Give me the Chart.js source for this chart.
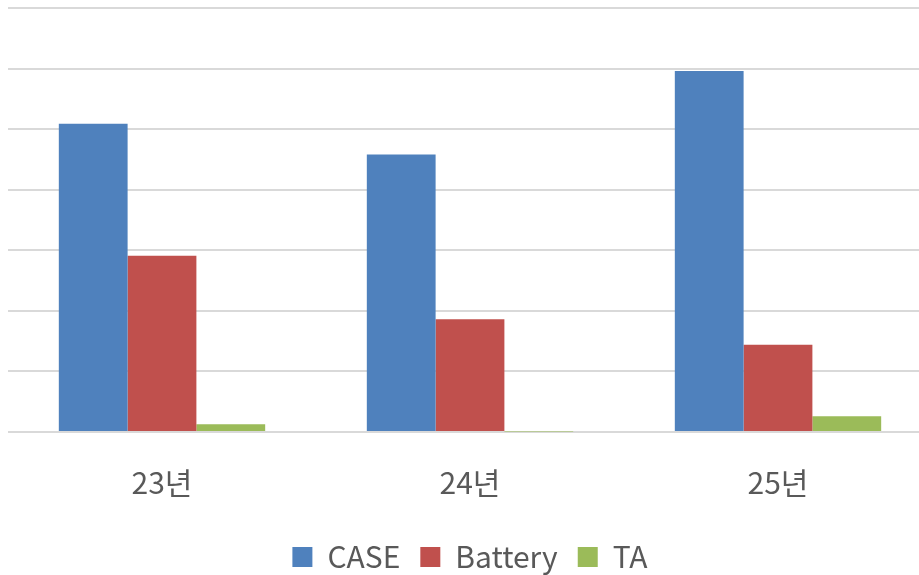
<!DOCTYPE html>
<html>
<head>
<meta charset="utf-8">
<script src="https://cdn.jsdelivr.net/npm/chart.js@4"></script>
<style>
html,body{margin:0;padding:0;overflow:hidden;background:#fff;width:919px;height:575px;}
#wrap{position:absolute;left:0;top:0;width:940px;height:582px;}
</style>
</head>
<body>
<div id="wrap"><canvas id="c"></canvas></div>
<script>
const categories = ["23년", "24년", "25년"];
const caseValues = [5.09, 4.58, 5.96];
const batteryValues = [2.91, 1.86, 1.44];
const taValues = [0.13, 0.01, 0.26];
const seriesNames = ["CASE", "Battery", "TA"];

const FONT = '"Noto Sans CJK KR", "Noto Sans", sans-serif';
new Chart(document.getElementById('c'), {
  type: 'bar',
  data: {
    labels: categories,
    datasets: [
      {label: seriesNames[0], data: caseValues, backgroundColor: '#4F81BD'},
      {label: seriesNames[1], data: batteryValues, backgroundColor: '#C0504D'},
      {label: seriesNames[2], data: taValues, backgroundColor: '#9BBB59'}
    ]
  },
  options: {
    responsive: true,
    maintainAspectRatio: false,
    animation: false,
    layout: {padding: {left: 8, right: 8, top: 8, bottom: 0}},
    datasets: {bar: {categoryPercentage: 0.67, barPercentage: 1.0}},
    plugins: {
      tooltip: {enabled: false},
      legend: {
        position: 'bottom',
        labels: {
          boxWidth: 20, boxHeight: 20, padding: 20,
          color: '#595959',
          font: {family: FONT, size: 30}
        }
      }
    },
    scales: {
      x: {
        grid: {display: false},
        border: {display: false},
        ticks: {color: '#595959', padding: 25, font: {family: FONT, size: 30}},
        afterFit: function(s) { s.height -= 4; }
      },
      y: {
        min: 0, max: 7,
        ticks: {display: false, stepSize: 1},
        border: {display: false},
        grid: {color: '#D9D9D9', lineWidth: 2, drawTicks: false}
      }
    }
  }
});
</script>
</body>
</html>
